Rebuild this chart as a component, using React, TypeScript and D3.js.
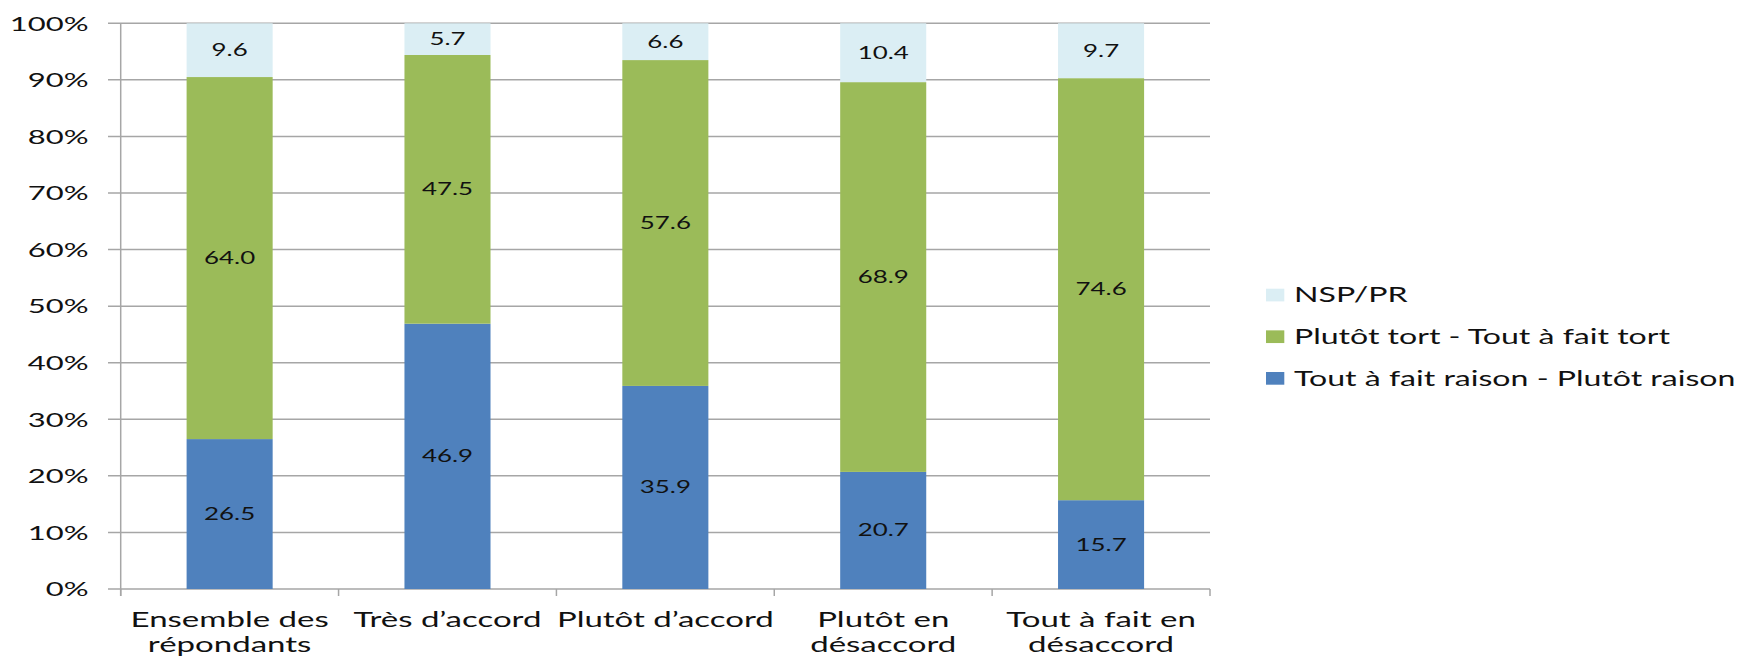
import React from "react";
import * as d3 from "d3";

const categories = [
  "Ensemble des\nrépondants",
  "Très d’accord",
  "Plutôt d’accord",
  "Plutôt en\ndésaccord",
  "Tout à fait en\ndésaccord",
];
const raison = [26.5, 46.9, 35.9, 20.7, 15.7];
const tort = [64.0, 47.5, 57.6, 68.9, 74.6];
const nsp = [9.6, 5.7, 6.6, 10.4, 9.7];
const seriesNames = ["Tout à fait raison - Plutôt raison", "Plutôt tort - Tout à fait tort", "NSP/PR"];
const seriesColors = ["#4F81BD", "#9BBB59", "#DBEEF4"];
const yTicks = [0, 10, 20, 30, 40, 50, 60, 70, 80, 90, 100];

const W = 1741, H = 658;
const SX = 1.55; // the source image is stretched sideways
const FONT = "Lato, 'Open Sans', sans-serif";
const INK = "#111";

export default function App() {
  const rows = categories.map((c, i) => ({ cat: c, r: raison[i], t: tort[i], n: nsp[i] }));
  const stacked = d3.stack<any>().keys(["r", "t", "n"])(rows);

  const x = d3.scaleBand().domain(categories).range([120.7, 1210]).paddingInner(0.605).paddingOuter(0.3025);
  const xEdge = d3.scaleBand().domain(categories).range([120.7, 1210]).padding(0);
  const y = d3.scaleLinear().domain([0, 100]).range([589, 23.3]);

  const grid = "#A6A6A6";
  const legendY = d3.scalePoint().domain(seriesNames.slice().reverse()).range([295, 378.3]);

  return (
    <svg width={W} height={H} style={{ position: "absolute", left: 0, top: 0, background: "#fff" }}>
      {/* gridlines + y ticks */}
      {yTicks.map(t => (
        <g key={t}>
          <line x1={108} x2={1210} y1={y(t)} y2={y(t)} stroke={grid} strokeWidth={1.5} />
          <g transform={`translate(88.5,${y(t)}) scale(${SX},1)`}>
            <text textAnchor="end" dy="0.36em" fontFamily={FONT} fontSize={20} fill={INK}>{t}%</text>
          </g>
        </g>
      ))}
      {/* y axis */}
      <line x1={120.7} x2={120.7} y1={y(100)} y2={596} stroke={grid} strokeWidth={1.5} />
      {/* x ticks */}
      {[...categories.map(c => xEdge(c)!), 1210].map((px, i) => (
        <line key={i} x1={px} x2={px} y1={589} y2={596} stroke={grid} strokeWidth={1.5} />
      ))}
      {/* bars */}
      {stacked.map((s, si) => (
        <g key={si}>
          {s.map((d, i) => {
            const y0 = y(d[0]), y1 = Math.max(y(d[1]), y(100));
            const cx = x(categories[i])! + x.bandwidth() / 2;
            const v = [raison, tort, nsp][si][i];
            return (
              <g key={i}>
                <rect x={x(categories[i])} width={x.bandwidth()} y={y1} height={y0 - y1} fill={seriesColors[si]} />
                <g transform={`translate(${cx},${(y0 + y1) / 2}) scale(${SX},1)`}>
                  <text textAnchor="middle" dy="0.36em" fontFamily={FONT} fontSize={16.7} fill={INK}>{v.toFixed(1)}</text>
                </g>
              </g>
            );
          })}
        </g>
      ))}
      {/* category labels */}
      {categories.map(c => (
        <g key={c} transform={`translate(${x(c)! + x.bandwidth() / 2},627) scale(${SX},1)`}>
          {c.split("\n").map((ln, li) => (
            <text key={li} y={li * 25} textAnchor="middle" fontFamily={FONT} fontSize={21.3} fill={INK}>{ln}</text>
          ))}
        </g>
      ))}
      {/* legend */}
      {seriesNames.map((n, i) => (
        <g key={n} transform={`translate(0,${legendY(n)})`}>
          <rect x={1266} y={-6.3} width={18.3} height={12.7} fill={seriesColors[i]} />
          <g transform={`translate(1294,0) scale(${SX},1)`}>
            <text dy="0.36em" fontFamily={FONT} fontSize={20.7} fill={INK}>{n}</text>
          </g>
        </g>
      ))}
    </svg>
  );
}
